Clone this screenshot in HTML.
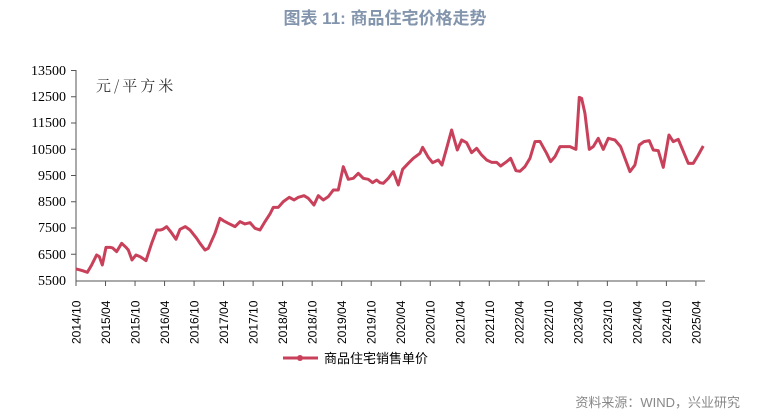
<!DOCTYPE html>
<html><head><meta charset="utf-8"><style>
body{margin:0;background:#fff;width:771px;height:413px;overflow:hidden}
</style></head><body>
<svg width="771" height="413" xmlns="http://www.w3.org/2000/svg">
<text x="385" y="24" text-anchor="middle" font-family="Liberation Sans, Noto Sans CJK SC, sans-serif" font-size="17" font-weight="bold" fill="#8395ad">图表 11: 商品住宅价格走势</text>
<g font-family="Liberation Serif, serif" font-size="14" fill="#000" text-anchor="end">
<text x="66" y="75">13500</text><text x="66" y="101">12500</text><text x="66" y="127">11500</text><text x="66" y="154">10500</text><text x="66" y="180">9500</text><text x="66" y="206">8500</text><text x="66" y="232">7500</text><text x="66" y="259">6500</text><text x="66" y="285">5500</text>
</g>
<text x="96" y="91" font-family="Noto Serif CJK SC, serif" font-size="15" letter-spacing="3" fill="#333">元/平方米</text>
<g stroke="#555" stroke-width="1">
<line x1="76" y1="70" x2="76" y2="281"/><line x1="76" y1="281" x2="705" y2="281"/>
<line x1="71" y1="70.5" x2="76" y2="70.5"/><line x1="71" y1="96.75" x2="76" y2="96.75"/><line x1="71" y1="123" x2="76" y2="123"/><line x1="71" y1="149.25" x2="76" y2="149.25"/><line x1="71" y1="175.5" x2="76" y2="175.5"/><line x1="71" y1="201.75" x2="76" y2="201.75"/><line x1="71" y1="228" x2="76" y2="228"/><line x1="71" y1="254.25" x2="76" y2="254.25"/>
</g>
<g id="xt" font-family="Liberation Sans, sans-serif" font-size="12" fill="#000"></g>
<g transform="translate(0,50) scale(0.3333)" fill="none" stroke="#c9405a" stroke-width="9" stroke-linejoin="round">
<polyline points="228,657 240,660 250,663 262,667 275,645 290,615 298,620 307,645 318,592 330,592 338,594 350,605 365,580 378,592 385,600 396,630 408,615 420,620 428,625 438,632 455,580 470,540 482,540 488,538 500,530 512,545 528,568 540,538 556,530 570,540 590,565 600,580 615,600 625,595 645,550 660,505 670,512 685,520 705,530 720,515 735,522 750,518 765,535 780,540 795,515 810,492 820,472 835,472 850,455 868,442 882,450 895,442 912,437 925,445 942,465 955,437 970,450 985,440 1000,420 1015,420 1030,350 1045,388 1060,385 1075,370 1090,385 1105,388 1118,398 1130,390 1140,398 1150,400 1165,385 1180,365 1195,405 1208,358 1225,340 1240,325 1260,310 1268,292 1285,322 1298,338 1315,330 1326,345 1340,295 1355,240 1372,300 1385,270 1400,278 1415,308 1430,295 1445,315 1460,330 1475,337 1490,337 1502,348 1520,335 1532,325 1548,362 1560,364 1575,350 1590,325 1605,275 1620,274 1640,310 1652,335 1665,320 1680,290 1710,290 1728,298 1738,142 1745,145 1755,190 1768,298 1780,290 1795,265 1810,298 1825,265 1845,270 1862,290 1890,365 1905,345 1918,285 1932,275 1948,272 1960,300 1975,302 1990,352 2007,255 2020,275 2035,268 2065,340 2080,340 2095,315 2110,288"/>
</g>
<line x1="283" y1="358" x2="318" y2="358" stroke="#c9405a" stroke-width="3"/>
<circle cx="300" cy="358" r="3" fill="#c9405a"/>
<text x="324" y="363" font-family="Noto Sans CJK SC, sans-serif" font-size="13" fill="#000">商品住宅销售单价</text>
<text x="740" y="407" text-anchor="end" font-family="Liberation Sans, Noto Sans CJK SC, sans-serif" font-size="13" fill="#888">资料来源：WIND，兴业研究</text>
</svg>
<script>
var g=document.getElementById('xt'),h='';
for(var i=0;i<22;i++){var x=76+i*29.52;var y=2014+Math.floor((i+1)/2);var m=i%2==0?'10':'04';
h+='<line x1="'+x+'" y1="281" x2="'+x+'" y2="286" stroke="#555"/>';
h+='<text transform="translate('+(x+4.5)+',344) rotate(-90)">'+y+'/'+m+'</text>';}
g.innerHTML=h;
</script>
</body></html>
